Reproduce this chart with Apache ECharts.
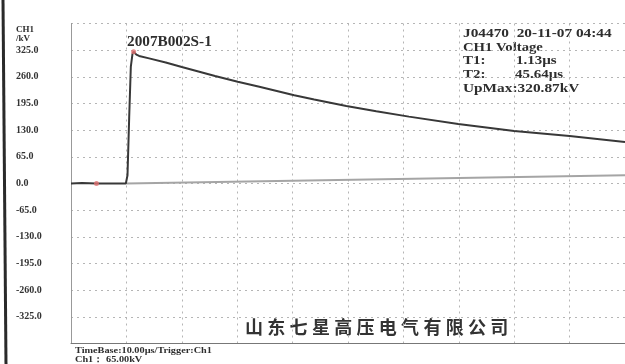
<!DOCTYPE html>
<html>
<head>
<meta charset="utf-8">
<script src="https://cdn.jsdelivr.net/npm/echarts@6/dist/echarts.min.js"></script>
<style>
  html, body { margin: 0; padding: 0; background: #fff; }
  #wave { width: 625px; height: 364px; }
</style>
</head>
<body>
<div id="wave"></div>
<script>
// 冲击电压波形 (µs / kV)
var timeUs = [0, 2, 4.6, 7, 9.9, 10.2, 10.5, 10.8, 11.1, 11.3, 11.8, 12.3, 14.1, 17.1, 20.0, 23.0, 26.0, 30.1, 34.0, 40.3, 43.9, 49.7, 55.1, 61.0, 69.9, 80.0, 90.0, 100];
var voltageKv = [0, 1, 0, 0, 0, 20, 160, 285, 316, 321, 314, 311, 305, 295, 284, 273, 262, 248, 236, 215, 205, 189, 176, 163, 145, 128, 116, 101];
// 基线 (灰线)
var baseTime = [10, 100];
var baseKv = [0, 20];
// 光标点
var cursorTime = [4.6, 11.3];
var cursorKv = [0, 321];
var yTicks = [-390, 390, 65];   // min, max, interval
var xTicks = [0, 100, 10];

function pairs(xs, ys) {
  var out = [];
  for (var i = 0; i < xs.length; i++) out.push([xs[i], ys[i]]);
  return out;
}

var myChart = echarts.init(document.getElementById('wave'));
var serif = '"Liberation Serif", "DejaVu Serif", serif';
var company = '山东七星高压电气有限公司';

// 文字 (扫描件字形偏宽, 用 scaleX 拉伸)
function txt(x, y, s, font, sx) {
  return {
    type: 'text', x: x, y: y, scaleX: sx || 1,
    style: { text: s, font: font, fill: '#2e2e2e', lineHeight: 9 }
  };
}
var infoFont = 'bold 13px ' + serif;
var graphics = [
  { type: 'line', shape: { x1: 3, y1: 0, x2: 6, y2: 364 }, style: { stroke: '#2a2a2a', lineWidth: 3 } },
  txt(16, 25, 'CH1\n/kV', 'bold 9px ' + serif),
  txt(127, 38, '2007B002S-1', 'bold 14px ' + serif, 1.09),
  txt(463, 29, 'J04470  20-11-07 04:44', infoFont, 1.18),
  txt(463, 43, 'CH1 Voltage', infoFont, 1.13),
  txt(463, 56, 'T1:', infoFont, 1.15),
  txt(516, 56, '1.13µs', infoFont, 1.15),
  txt(463, 70, 'T2:', infoFont, 1.15),
  txt(515, 70, '45.64µs', infoFont, 1.15),
  txt(463, 84, 'UpMax:320.87kV', infoFont, 1.18),
  txt(75, 346, 'TimeBase:10.00µs/Trigger:Ch1', 'bold 9px ' + serif, 1.14),
  txt(75, 355, 'Ch1： 65.00kV', 'bold 9px ' + serif, 1.14)
];
// 公司名逐字排列
for (var i = 0; i < company.length; i++) {
  graphics.push({
    type: 'text', x: 245 + i * 22.3, y: 318,
    style: { text: company.charAt(i), font: 'bold 18px "Noto Sans CJK SC"', fill: '#333' }
  });
}

option = {
  animation: false,
  backgroundColor: '#fff',
  grid: {
    left: 71,
    top: 23.5,
    width: 561,
    height: 320
  },
  xAxis: {
    type: 'value',
    min: xTicks[0],
    max: xTicks[1],
    interval: xTicks[2],
    axisLine: { onZero: false, lineStyle: { color: '#777', width: 1 } },
    axisTick: { show: false },
    axisLabel: { show: false },
    splitLine: { lineStyle: { color: '#b5b5b5', type: [2, 4] } }
  },
  yAxis: {
    type: 'value',
    min: yTicks[0],
    max: yTicks[1],
    interval: yTicks[2],
    axisLine: { show: true, lineStyle: { color: '#999' } },
    axisTick: { show: false },
    axisLabel: {
      align: 'left',
      margin: 55,
      padding: [4, 0, 0, 0],
      color: '#333',
      fontFamily: serif,
      fontWeight: 'bold',
      fontSize: 10,
      formatter: function (v) {
        if (Math.abs(v) >= 390) return '';
        return v.toFixed(1);
      }
    },
    splitLine: { lineStyle: { color: '#b5b5b5', type: [2, 4] } }
  },
  series: [{
    name: '基线',
    type: 'line',
    data: pairs(baseTime, baseKv),
    showSymbol: false,
    lineStyle: { color: '#a5a5a5', width: 2 },
    z: 1
  }, {
    name: 'CH1',
    type: 'line',
    data: pairs(timeUs, voltageKv),
    showSymbol: false,
    lineStyle: { color: '#383838', width: 2 },
    z: 2
  }, {
    name: '光标',
    type: 'scatter',
    data: pairs(cursorTime, cursorKv),
    symbolSize: 5,
    itemStyle: { color: '#e07070' },
    z: 3
  }],
  graphic: graphics
};
myChart.setOption(option);
window.addEventListener("resize", function () {
  myChart.resize();
});
</script>
</body>
</html>
